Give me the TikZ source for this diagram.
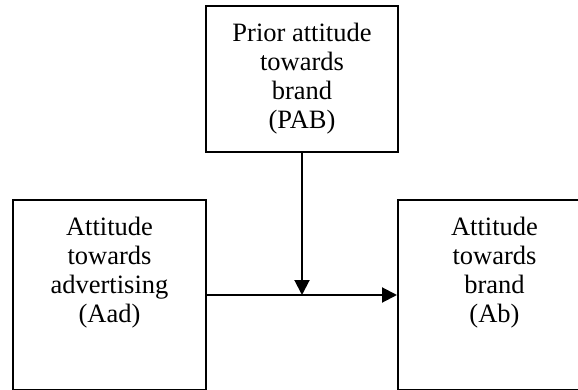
\documentclass[tikz,border=0pt]{standalone}
\usepackage{fontspec}
\setmainfont{Liberation Serif}
\usetikzlibrary{arrows.meta,positioning}
\tikzset{
x=1pt, y=1pt, % one unit is one pixel of the page
box/.style={draw, line width=2pt, minimum width=193pt, minimum height=190pt, inner sep=0pt}, % the three frames
boxtext/.style={anchor=north, align=center, inner sep=0pt, font=\fontsize{26.5}{29}\selectfont},
link/.style={-{Triangle[length=15pt,width=15pt]}, line width=2pt},
}
\begin{document}
\begin{tikzpicture}
		\clip (0,0) rectangle (578,389);
		\node[box, minimum width=192pt, minimum height=146pt] (pab) at (302,310) {};
		\node[box] (aad) at (109.5,94) {};
		\node[box] (ab) at (494.5,94) {};
		\node[boxtext, below=18pt of pab.north] (pab-text) {Prior attitude\\towards\\brand\\(PAB)};
		\node[boxtext, below=18pt of aad.north] (aad-text) {Attitude\\towards\\advertising\\(Aad)};
		\node[boxtext, below=18pt of ab.north] (ab-text) {Attitude\\towards\\brand\\(Ab)};
		\coordinate (meet) at (pab.south |- aad.east);
		\draw[link] (aad) -- (ab);
		\draw[link] (pab) -- (meet);
	\end{tikzpicture}
\end{document}
